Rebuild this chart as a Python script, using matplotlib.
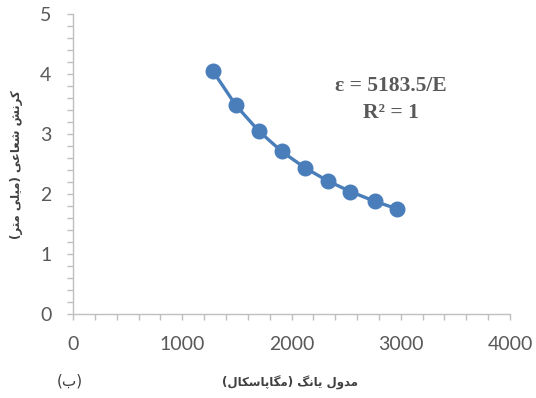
import matplotlib
matplotlib.use("Agg")
import matplotlib.pyplot as plt
from matplotlib.ticker import MultipleLocator

# ---- data ----
young_modulus = [1280, 1490, 1700, 1910, 2120, 2330, 2540, 2760, 2970]
strain = [4.05, 3.48, 3.05, 2.71, 2.44, 2.22, 2.04, 1.88, 1.75]
x_ticks = [0, 1000, 2000, 3000, 4000]
y_ticks = [0, 1, 2, 3, 4, 5]
x_label = "مدول یانگ (مگاپاسکال)"
y_label = "کرنش شعاعی (میلی متر)"
corner_label = "(ب)"
eq_text = "ε = 5183.5/E"
r2_text = "R² = 1"

# ---- simple Arabic/Persian shaping (presentation forms) ----
FORMS = {
    'ا': ('\uFE8D', '\uFE8E', None, None),
    'ب': ('\uFE8F', '\uFE90', '\uFE91', '\uFE92'),
    'پ': ('\uFB56', '\uFB57', '\uFB58', '\uFB59'),
    'ت': ('\uFE95', '\uFE96', '\uFE97', '\uFE98'),
    'د': ('\uFEA9', '\uFEAA', None, None),
    'ر': ('\uFEAD', '\uFEAE', None, None),
    'ز': ('\uFEAF', '\uFEB0', None, None),
    'س': ('\uFEB1', '\uFEB2', '\uFEB3', '\uFEB4'),
    'ش': ('\uFEB5', '\uFEB6', '\uFEB7', '\uFEB8'),
    'ع': ('\uFEC9', '\uFECA', '\uFECB', '\uFECC'),
    'ک': ('\uFB8E', '\uFB8F', '\uFB90', '\uFB91'),
    'گ': ('\uFB92', '\uFB93', '\uFB94', '\uFB95'),
    'ل': ('\uFEDD', '\uFEDE', '\uFEDF', '\uFEE0'),
    'م': ('\uFEE1', '\uFEE2', '\uFEE3', '\uFEE4'),
    'ن': ('\uFEE5', '\uFEE6', '\uFEE7', '\uFEE8'),
    'و': ('\uFEED', '\uFEEE', None, None),
    'ی': ('\uFBFC', '\uFBFD', '\uFBFE', '\uFBFF'),
}


def dual(c):
    return c in FORMS and FORMS[c][2] is not None


def joins(c):
    return c in FORMS


def shape(text):
    out = []
    n = len(text)
    for i, c in enumerate(text):
        if c not in FORMS:
            out.append(c)
            continue
        prev_c = text[i - 1] if i > 0 else ''
        next_c = text[i + 1] if i < n - 1 else ''
        jp = dual(prev_c)
        jn = dual(c) and joins(next_c)
        iso, fin, ini, med = FORMS[c]
        if jp and jn:
            out.append(med)
        elif jp:
            out.append(fin)
        elif jn:
            out.append(ini)
        else:
            out.append(iso)
    vis = ''.join(reversed(out))
    swap = {'(': ')', ')': '('}
    return ''.join(swap.get(ch, ch) for ch in vis)


# ---- figure ----
W, H = 536, 398
fig = plt.figure(figsize=(W / 100, H / 100), dpi=100)
ax = fig.add_axes([73 / W, 1 - 314 / H, (510 - 73) / W, (314 - 14) / H])

blue = '#4A7EBB'
ax.plot(young_modulus, strain, color=blue, lw=2.4, marker='o', ms=10.5,
        markerfacecolor=blue, markeredgecolor=blue, zorder=3)

ax.set_xlim(x_ticks[0], x_ticks[-1])
ax.set_ylim(y_ticks[0], y_ticks[-1])
ax.set_xticks(x_ticks)
ax.set_yticks(y_ticks)
ax.xaxis.set_minor_locator(MultipleLocator(200))
ax.yaxis.set_minor_locator(MultipleLocator(0.2))

gray = '#BFBFBF'
for s in ['top', 'right']:
    ax.spines[s].set_visible(False)
for s in ['left', 'bottom']:
    ax.spines[s].set_color(gray)
    ax.spines[s].set_linewidth(1.0)

ax.tick_params(which='both', direction='out', color=gray, width=1.0, length=4.5)
ax.tick_params(axis='x', which='major', labelsize=14, labelcolor='#595959', pad=11)
ax.tick_params(axis='y', which='major', labelsize=14, labelcolor='#595959', pad=11)
for lab in ax.get_xticklabels() + ax.get_yticklabels():
    lab.set_fontfamily('Lato')

fig.text(391 / W, 1 - 86 / H, eq_text,
         ha='center', va='center', fontsize=15.5, fontweight='bold',
         family='Liberation Serif', color='#595959')
fig.text(391 / W, 1 - 113 / H, r2_text,
         ha='center', va='center', fontsize=15.5, fontweight='bold',
         family='Liberation Serif', color='#595959')

fig.text(17 / W, 1 - 165 / H, shape(y_label), rotation=90, ha='center', va='center',
         fontsize=8.5, fontweight='bold', family='DejaVu Sans', color='#404040')
fig.text(290 / W, 1 - 383 / H, shape(x_label), ha='center', va='center',
         fontsize=8.5, fontweight='bold', family='DejaVu Sans', color='#404040')
fig.text(70 / W, 1 - 381 / H, shape(corner_label), ha='center', va='center',
         fontsize=11, family='DejaVu Sans', color='#404040')

fig.savefig('out.png', dpi=100)
